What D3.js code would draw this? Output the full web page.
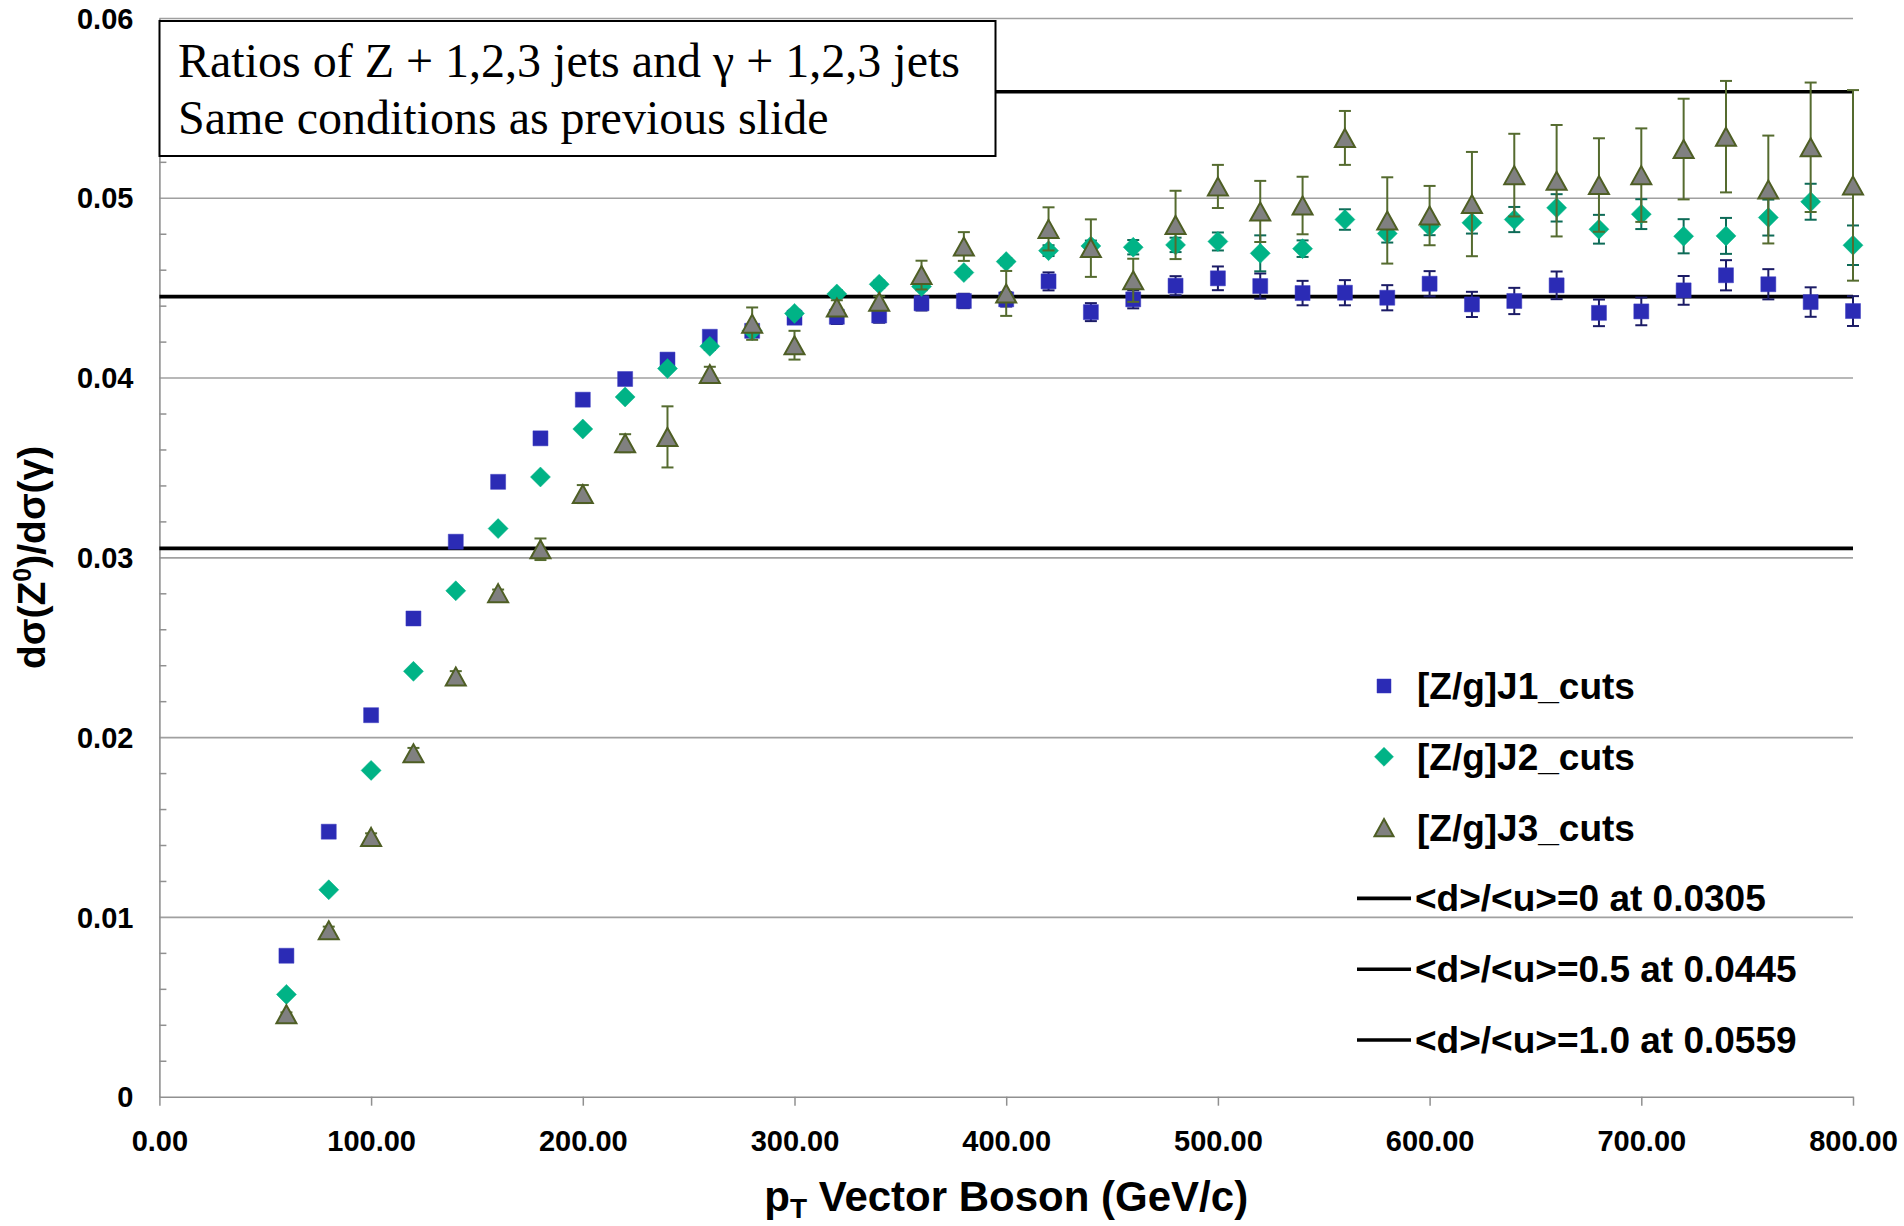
<!DOCTYPE html>
<html>
<head>
<meta charset="utf-8">
<script src="https://cdn.jsdelivr.net/npm/d3@7"></script>
<style>
  html, body { margin: 0; padding: 0; background: #fff; }
  svg { display: block; }
</style>
</head>
<body>
<svg id="chart" width="1904" height="1226"></svg>
<script>
// ---------------- data ----------------
const pT = [60, 80, 100, 120, 140, 160, 180, 200, 220, 240, 260, 280, 300, 320, 340, 360, 380, 400, 420, 440,
            460, 480, 500, 520, 540, 560, 580, 600, 620, 640, 660, 680, 700, 720, 740, 760, 780, 800];

const j1 = [0.00784, 0.01474, 0.02122, 0.02660, 0.03087, 0.03420, 0.03662, 0.03877, 0.03992, 0.04100,
            0.04227, 0.04260, 0.04333, 0.04338, 0.04345, 0.04413, 0.04426, 0.04435, 0.04535, 0.04364,
            0.04435, 0.04511, 0.04552, 0.04509, 0.04470, 0.04472, 0.04444, 0.04522, 0.04407, 0.04426,
            0.04513, 0.04360, 0.04368, 0.04485, 0.04569, 0.04519, 0.04420, 0.04370];
const j1Err = [0.0001, 0.0001, 0.0001, 0.0001, 0.0001, 0.0001, 0.0001, 0.0001, 0.0001, 0.0001,
               0.0002, 0.0002, 0.0003, 0.0004, 0.0004, 0.0004, 0.0004, 0.0004, 0.0005, 0.0005,
               0.0005, 0.00053, 0.00066, 0.0007, 0.00068, 0.0007, 0.0007, 0.0007, 0.0007, 0.00073,
               0.00077, 0.00074, 0.00077, 0.0008, 0.00084, 0.00084, 0.00082, 0.00083];

const j2 = [0.00569, 0.01151, 0.01815, 0.02366, 0.02814, 0.03160, 0.03447, 0.03714, 0.03892, 0.04050,
            0.04174, 0.04261, 0.04357, 0.04465, 0.04519, 0.04506, 0.04584, 0.04645, 0.04706, 0.04732,
            0.04725, 0.04738, 0.04757, 0.04691, 0.04717, 0.04879, 0.04801, 0.04842, 0.04861, 0.04879,
            0.04944, 0.04825, 0.04909, 0.04786, 0.04788, 0.04890, 0.04978, 0.04736];
const j2Err = [0.0001, 0.0001, 0.0001, 0.0001, 0.0001, 0.0001, 0.0001, 0.0001, 0.0001, 0.0001,
               0.0002, 0.0002, 0.0002, 0.0002, 0.0002, 0.0002, 0.0002, 0.0002, 0.0003, 0.0003,
               0.0004, 0.0004, 0.0005, 0.0010, 0.00046, 0.00057, 0.0005, 0.0005, 0.0006, 0.0007,
               0.00076, 0.0008, 0.00083, 0.00095, 0.0010, 0.0010, 0.0010, 0.0011];

const j3 = [0.00459, 0.00926, 0.01445, 0.01910, 0.02337, 0.02801, 0.03045, 0.03352, 0.03635, 0.03670,
            0.04020, 0.04300, 0.04180, 0.04390, 0.04422, 0.04570, 0.04729, 0.04468, 0.04827, 0.04720,
            0.04541, 0.04849, 0.05063, 0.04924, 0.04957, 0.05333, 0.04874, 0.04901, 0.04965, 0.05126,
            0.05095, 0.05071, 0.05126, 0.05271, 0.05340, 0.05046, 0.05281, 0.05069];
const j3Err = [0.0001, 0.0002, 0.0002, 0.0003, 0.0003, 0.0002, 0.0006, 0.0005, 0.0005, 0.0017,
               0.0004, 0.0009, 0.0008, 0.0004, 0.0003, 0.0008, 0.0008, 0.00125, 0.0012, 0.0016,
               0.0012, 0.0019, 0.0012, 0.0017, 0.0016, 0.0015, 0.0024, 0.00165, 0.0029, 0.0023,
               0.0031, 0.0026, 0.0026, 0.0028, 0.0031, 0.0030, 0.0036, 0.0053];

const seriesNames = ["[Z/g]J1_cuts", "[Z/g]J2_cuts", "[Z/g]J3_cuts"];
const refValues = [0.0305, 0.0445, 0.0559];
const refLabels = ["<d>/<u>=0 at 0.0305", "<d>/<u>=0.5 at 0.0445", "<d>/<u>=1.0 at 0.0559"];

const xTicks = [0, 100, 200, 300, 400, 500, 600, 700, 800];
const yTicks = [0, 0.01, 0.02, 0.03, 0.04, 0.05, 0.06];
const yMinorTicks = [0.002, 0.004, 0.006, 0.008, 0.012, 0.014, 0.016, 0.018, 0.022, 0.024, 0.026, 0.028,
                     0.032, 0.034, 0.036, 0.038, 0.042, 0.044, 0.046, 0.048, 0.052, 0.054, 0.056, 0.058];

const titleLines = ["Ratios of Z + 1,2,3 jets and \u03B3 + 1,2,3 jets", "Same conditions as previous slide"];

// ---------------- layout ----------------
const L = 159.4, R = 1853, T = 18, B = 1096.7;
const svg = d3.select("#chart");
const x = d3.scaleLinear().domain([0, 800]).range([L, R]);
const y = d3.scaleLinear().domain([0, 0.06]).range([B, T]);

const SANS = "'Liberation Sans', Arial, Helvetica, sans-serif";
const SERIF = "'Liberation Serif', 'Times New Roman', serif";

// gridlines
svg.append("g")
  .attr("transform", `translate(${L},0)`)
  .call(d3.axisLeft(y).tickValues(yTicks.filter(d => d > 0)).tickSize(-(R - L)).tickFormat(""))
  .call(g => g.select(".domain").remove())
  .call(g => g.selectAll("line").attr("stroke", "#a0a0a0").attr("stroke-width", 1.6));

// minor ticks (inside)
svg.append("g")
  .attr("transform", `translate(${L},0)`)
  .call(d3.axisRight(y).tickValues(yMinorTicks).tickSize(7).tickFormat(""))
  .call(g => g.select(".domain").remove())
  .call(g => g.selectAll("line").attr("stroke", "#909090").attr("stroke-width", 1.5));

// y axis
svg.append("g")
  .attr("transform", `translate(${L},0)`)
  .call(d3.axisLeft(y).tickValues(yTicks).tickSize(0).tickPadding(26)
        .tickFormat(d => d === 0 ? "0" : d3.format(".2f")(d)))
  .call(g => g.select(".domain").attr("stroke", "#909090").attr("stroke-width", 1.6))
  .call(g => g.selectAll("text").attr("font-family", SANS).attr("font-weight", "bold")
        .attr("font-size", 29).attr("fill", "#000").attr("dy", "0.35em"));

// x axis
svg.append("g")
  .attr("transform", `translate(0,${B})`)
  .call(d3.axisBottom(x).tickValues(xTicks).tickSizeInner(9).tickSizeOuter(0)
        .tickFormat(d3.format(".2f")))
  .call(g => g.select(".domain").attr("stroke", "#909090").attr("stroke-width", 1.6))
  .call(g => g.selectAll("line").attr("stroke", "#909090").attr("stroke-width", 1.5))
  .call(g => g.selectAll("text").attr("font-family", SANS).attr("font-weight", "bold")
        .attr("font-size", 29).attr("fill", "#000").attr("y", 54).attr("dy", 0));

// reference lines
svg.append("g").selectAll("line").data(refValues).join("line")
  .attr("x1", L).attr("x2", R)
  .attr("y1", d => y(d)).attr("y2", d => y(d))
  .attr("stroke", "#000").attr("stroke-width", 3.6);

// title box (covers the top line)
const tb = svg.append("g");
tb.append("rect").attr("x", 159.5).attr("y", 21).attr("width", 836).attr("height", 135)
  .attr("fill", "#fff").attr("stroke", "#000").attr("stroke-width", 2);
tb.selectAll("text").data(titleLines).join("text")
  .attr("x", 178).attr("y", (d, i) => 77 + i * 57)
  .attr("font-family", SERIF).attr("font-size", 48).attr("fill", "#000")
  .text(d => d);

// marker shapes
const shapes = {
  square: s => `M${-s/2},${-s/2}h${s}v${s}h${-s}Z`,
  diamond: s => `M0,${-s/2}L${s/2},0L0,${s/2}L${-s/2},0Z`,
  triangle: s => `M0,${-s*0.45}L${s/2},${s*0.45}L${-s/2},${s*0.45}Z`
};

const series = [
  { name: seriesNames[0], vals: j1, err: j1Err, shape: "square", size: 15, fill: "#2B2BB5", stroke: "#3a3ac0", sw: 0.5, errColor: "#1B1B66" },
  { name: seriesNames[1], vals: j2, err: j2Err, shape: "diamond", size: 20, fill: "#00B386", stroke: "#00B386", sw: 0.5, errColor: "#0D6B57" },
  { name: seriesNames[2], vals: j3, err: j3Err, shape: "triangle", size: 20, fill: "#808080", stroke: "#4E5E24", sw: 2, errColor: "#556B2F" }
];

series.forEach(s => {
  const data = pT.map((p, i) => ({ p, v: s.vals[i], e: s.err[i] }));
  const g = svg.append("g");
  const eb = g.append("g").attr("stroke", s.errColor).attr("stroke-width", 2);
  eb.selectAll("line.v").data(data).join("line").attr("class", "v")
    .attr("x1", d => x(d.p)).attr("x2", d => x(d.p))
    .attr("y1", d => y(d.v + d.e)).attr("y2", d => y(d.v - d.e));
  eb.selectAll("line.t").data(data).join("line").attr("class", "t")
    .attr("x1", d => x(d.p) - 6).attr("x2", d => x(d.p) + 6)
    .attr("y1", d => y(d.v + d.e)).attr("y2", d => y(d.v + d.e));
  eb.selectAll("line.b").data(data).join("line").attr("class", "b")
    .attr("x1", d => x(d.p) - 6).attr("x2", d => x(d.p) + 6)
    .attr("y1", d => y(d.v - d.e)).attr("y2", d => y(d.v - d.e));
  g.selectAll("path").data(data).join("path")
    .attr("transform", d => `translate(${x(d.p)},${y(d.v)})`)
    .attr("d", shapes[s.shape](s.size))
    .attr("fill", s.fill).attr("stroke", s.stroke).attr("stroke-width", s.sw);
});

// legend
const lg = svg.append("g");
const legX = 1384, legY0 = 686, legStep = 70.8;
series.forEach((s, i) => {
  const cy = legY0 + i * legStep;
  lg.append("path").attr("transform", `translate(${legX},${cy})`)
    .attr("d", shapes[s.shape](s.shape === "square" ? 14 : 19))
    .attr("fill", s.fill).attr("stroke", s.stroke).attr("stroke-width", s.sw);
  lg.append("text").attr("x", 1417).attr("y", cy + 13)
    .attr("font-family", SANS).attr("font-weight", "bold").attr("font-size", 37).attr("fill", "#000")
    .text(s.name);
});
refLabels.forEach((t, i) => {
  const cy = legY0 + (i + 3) * legStep;
  lg.append("line").attr("x1", 1357).attr("x2", 1411).attr("y1", cy).attr("y2", cy)
    .attr("stroke", "#000").attr("stroke-width", 3.6);
  lg.append("text").attr("x", 1415).attr("y", cy + 13)
    .attr("font-family", SANS).attr("font-weight", "bold").attr("font-size", 37).attr("fill", "#000")
    .text(t);
});

// axis titles
const xt = svg.append("text").attr("x", (L + R) / 2).attr("y", 1211).attr("text-anchor", "middle")
  .attr("font-family", SANS).attr("font-weight", "bold").attr("font-size", 42).attr("fill", "#000");
xt.append("tspan").text("p");
xt.append("tspan").attr("font-size", 28).attr("dy", 7).text("T");
xt.append("tspan").attr("dy", -7).text(" Vector Boson (GeV/c)");

const yt = svg.append("text").attr("transform", `translate(45,${(T + B) / 2}) rotate(-90)`)
  .attr("text-anchor", "middle")
  .attr("font-family", SANS).attr("font-weight", "bold").attr("font-size", 39).attr("fill", "#000");
yt.append("tspan").text("d\u03C3(Z");
yt.append("tspan").attr("font-size", 25).attr("dy", -14).text("0");
yt.append("tspan").attr("dy", 14).text(")/d\u03C3(\u03B3)");
</script>
</body>
</html>
